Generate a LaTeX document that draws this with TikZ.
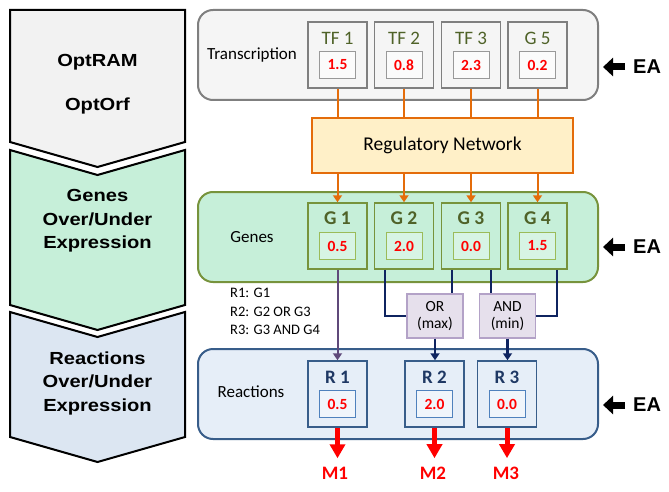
\documentclass[tikz,border=0pt]{standalone}
\usepackage{fontspec}
\setmainfont{Carlito}
\newfontfamily\arialf{Liberation Sans}[FakeStretch=1.15]
\newfontfamily\eaf{Liberation Sans}
\usetikzlibrary{arrows.meta}
\definecolor{chevA}{HTML}{F2F2F2}
\definecolor{chevB}{HTML}{C6EFD9}
\definecolor{chevC}{HTML}{DCE6F2}
\definecolor{grayP}{HTML}{F5F5F5}
\definecolor{grayB}{HTML}{7F7F7F}
\definecolor{olive}{HTML}{4F6228}
\definecolor{regF}{HTML}{FFF0C8}
\definecolor{orangeL}{HTML}{E46C0A}
\definecolor{greenP}{HTML}{C6EFD9}
\definecolor{greenB}{HTML}{77933C}
\definecolor{greenI}{HTML}{9BBB59}
\definecolor{lavF}{HTML}{E6E0EC}
\definecolor{lavB}{HTML}{B3A2C7}
\definecolor{navyL}{HTML}{0F2460}
\definecolor{purpL}{HTML}{5F497A}
\definecolor{blueP}{HTML}{E6EEF8}
\definecolor{blueB}{HTML}{385D8A}
\definecolor{blueI}{HTML}{4F81BD}
\definecolor{navyT}{HTML}{1F3864}
\definecolor{redT}{HTML}{FF0000}
\tikzset{
  chev/.style={draw=black, line width=2pt, line join=miter},
  chevtext/.style={font=\arialf\bfseries\fontsize{17.5}{23.5}\selectfont, align=center},
  panel/.style={rounded corners=15pt, line width=2pt, minimum width=400pt, minimum height=90pt},
  ptitle/.style={font=\fontsize{17}{18}\selectfont},
  gbox/.style={line width=1.5pt, minimum width=59pt, minimum height=66pt},
  vbox/.style={line width=0.8pt, minimum width=36pt, minimum height=27pt, font=\bfseries\fontsize{15.5}{16}\selectfont, text=redT},
  blabel/.style={font=\fontsize{19}{20}\selectfont},
  orl/.style={draw=orangeL, line width=2pt},
  orarr/.style={orl, -{Triangle[length=7pt,width=9pt]}},
  navl/.style={draw=navyL, line width=2.5pt},
  logic/.style={draw=lavB, fill=lavF, line width=1.2pt, minimum width=56pt, minimum height=44pt, align=center, font=\fontsize{15.5}{17}\selectfont},
  redarr/.style={draw=redT, line width=5pt, -{Triangle[length=14pt,width=15pt]}},
  mlabel/.style={text=redT, font=\bfseries\fontsize{19}{20}\selectfont},
  eatext/.style={font=\eaf\bfseries\fontsize{20}{20}\selectfont, inner sep=0pt},
  eaarr/.style={draw=black, line width=7pt, -{Triangle[length=10pt,width=18pt]}}
}
\begin{document}
\begin{tikzpicture}[x=1pt,y=-1pt]
\useasboundingbox (0,0) rectangle (669,492);
% left chevrons
\draw[chev, fill=chevA] (10,10) -- (185,10) -- (185,142) -- (97.5,167) -- (10,142) -- cycle;
\draw[chev, fill=chevB] (10,150) -- (97.5,175) -- (185,150) -- (185,305) -- (97.5,330) -- (10,305) -- cycle;
\draw[chev, fill=chevC] (10,312) -- (97.5,337) -- (185,312) -- (185,437) -- (97.5,462) -- (10,437) -- cycle;
\node[chevtext] (t1) at (97.5,62) {OptRAM};
\node[chevtext] (t2) at (97.5,106) {OptOrf};
\node[chevtext] (t3) at (97.5,221) {Genes\\Over/Under\\Expression};
\node[chevtext] (t4) at (97.5,383) {Reactions\\Over/Under\\Expression};

% panels
\node[panel, draw=grayB, fill=grayP] (tp) at (398,55) {};
\node[panel, draw=greenB, fill=greenP] (gp) at (398,237) {};
\node[panel, draw=blueB, fill=blueP] (rp) at (398,394) {};
\node[ptitle] (tpl) at (252,55) {Transcription};
\node[ptitle] (gpl) at (252,237) {Genes};
\node[ptitle] (rpl) at (251,392) {Reactions};

% TF boxes
\foreach \n/\x/\lab/\v in {tf1/337.5/TF 1/1.5, tf2/404/TF 2/0.8, tf3/471/TF 3/2.3, g5/537.5/G 5/0.2}{
  \node[gbox, draw=grayB, fill=grayP] (\n) at (\x,55) {};
  \node[blabel, text=olive] (\n l) at (\x,38) {\lab};
  \node[vbox, draw=gray!80, fill=white!97!gray] (\n v) at (\x,65) {\v};
}
% regulatory network
\node[draw=orangeL, fill=regF, line width=1.5pt, minimum width=261pt, minimum height=55pt, font=\fontsize{19.5}{20}\selectfont] (reg) at (442.5,145.5) {Regulatory Network};

% gene boxes
\foreach \n/\x/\lab/\v in {g1/337.5/G 1/0.5, g2/404/G 2/2.0, g3/471/G 3/0.0, g4/537.5/G 4/1.5}{
  \node[gbox, draw=greenB, fill=greenP] (\n) at (\x,236) {};
  \node[blabel, text=olive, font=\bfseries\fontsize{19.5}{20}\selectfont] (\n l) at (\x,218) {\lab};
  \node[vbox, draw=greenI, fill=greenP!70!white] (\n v) at (\x,246) {\v};
}

% orange connectors
\foreach \a/\b in {tf1/g1, tf2/g2, tf3/g3, g5/g4}{
  \draw[orl] (\a.south) -- (\a.south |- reg.north);
  \draw[orarr] (reg.south -| \b.north) -- (\b.north);
}

% rules
\node[anchor=north west, align=left, font=\fontsize{14.5}{18.5}\selectfont, inner sep=0pt] (rules) at (230,288) {R1: G1\\R2: G2 OR G3\\R3: G3 AND G4};

% logic boxes
\node[logic] (or) at (435,316) {OR\\(max)};
\node[logic] (and) at (507.5,316) {AND\\(min)};

% reaction boxes
\foreach \n/\x/\lab/\v in {r1/337.5/R 1/0.5, r2/434.5/R 2/2.0, r3/507/R 3/0.0}{
  \node[gbox, draw=blueB, fill=blueP] (\n) at (\x,394) {};
  \node[blabel, text=navyT, font=\bfseries\fontsize{19}{20}\selectfont] (\n l) at (\x,377) {\lab};
  \node[vbox, draw=blueI, fill=blueP!60!white] (\n v) at (\x,404) {\v};
}

% gene to reaction connectors
\draw[draw=purpL, line width=2pt, -{Triangle[length=7pt,width=9pt]}] (g1.south) -- (r1.north);
\draw[navl, line join=miter] ([xshift=-19pt]g2.south) |- (or.west);
\draw[navl] ([xshift=-19pt]g3.south) -- ([xshift=-19pt]g3.south |- or.north);
\draw[navl] ([xshift=20pt]g3.south) -- ([xshift=20pt]g3.south |- and.north);
\draw[navl, line join=miter] ([xshift=19.5pt]g4.south) |- (and.east);
\draw[navl, -{Triangle[length=7pt,width=9pt]}] (or.south) -- (or.south |- r2.north);
\draw[navl, -{Triangle[length=7pt,width=9pt]}] (and.south) -- (and.south |- r3.north);

% metabolites
\node[mlabel] (m1) at (335,473) {M1};
\node[mlabel] (m2) at (433,473) {M2};
\node[mlabel] (m3) at (506,473) {M3};
\draw[redarr, shorten >=5pt] (r1.south) -- (r1.south |- m1.north);
\draw[redarr, shorten >=5pt] (r2.south) -- (r2.south |- m2.north);
\draw[redarr, shorten >=5pt] (r3.south) -- (r3.south |- m3.north);

% EA arrows
\node[eatext, anchor=west] (ea1) at (633,67) {EA};
\node[eatext, anchor=west] (ea2) at (633,247) {EA};
\node[eatext, anchor=west] (ea3) at (633,405) {EA};
\foreach \e/\p in {ea1/tp, ea2/gp, ea3/rp}{
  \draw[eaarr, shorten <=8pt, shorten >=4pt] (\e.west) -- (\e.west -| \p.east);
}
\end{tikzpicture}
\end{document}
